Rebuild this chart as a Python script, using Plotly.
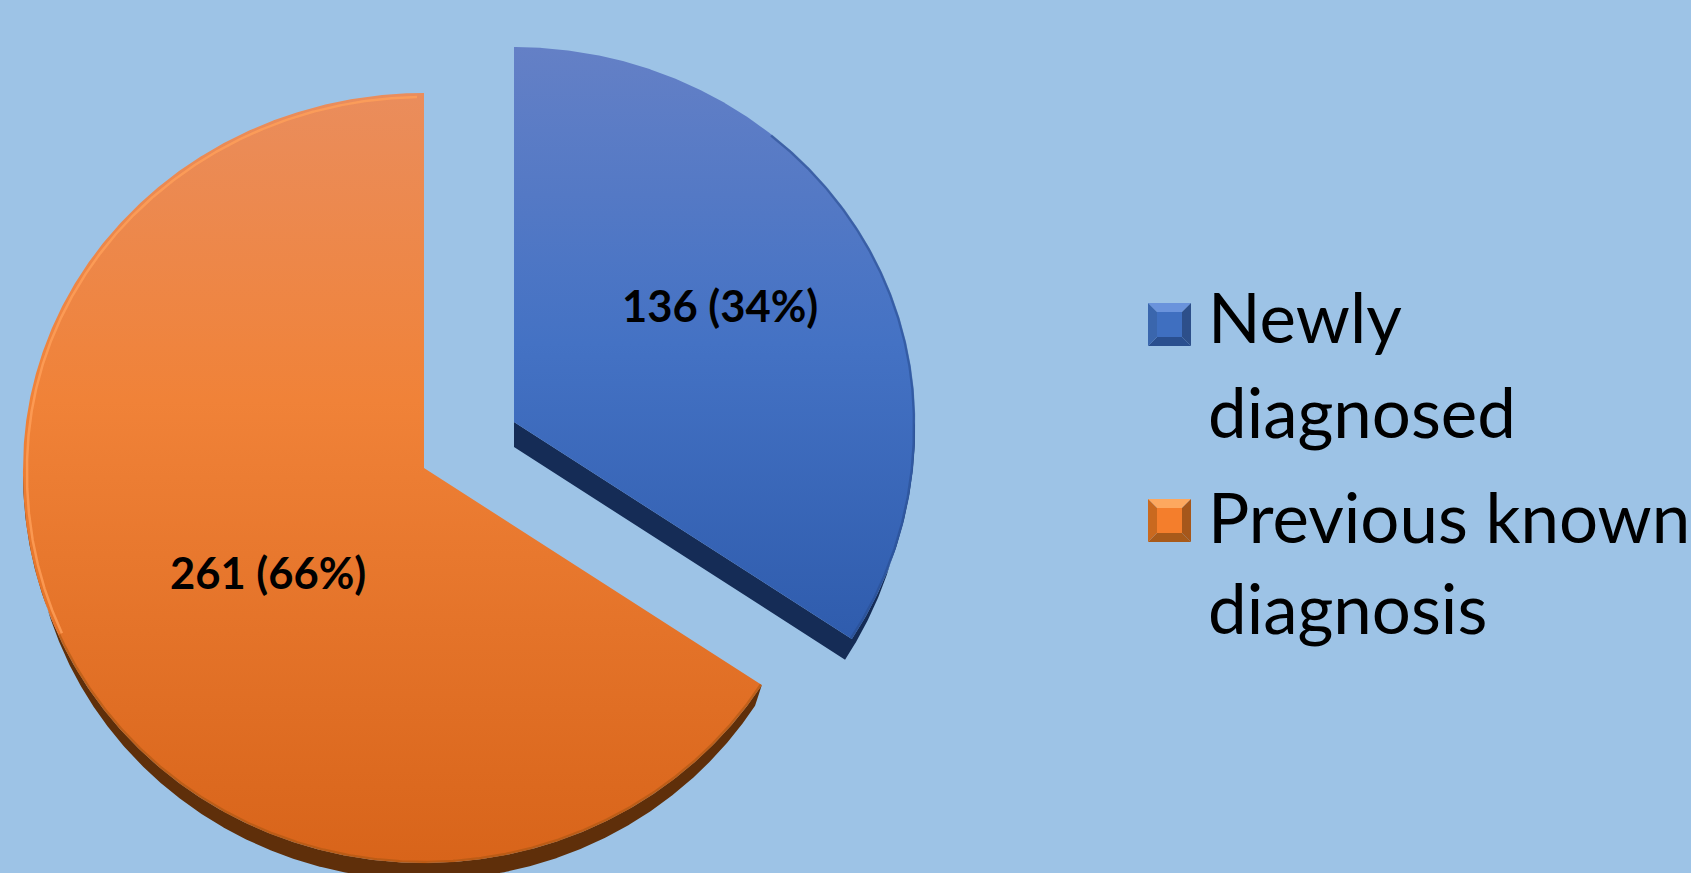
import math
import plotly.graph_objects as go

categories = ["Newly diagnosed", "Previous known diagnosis"]
counts = [136, 261]
legend_lines = [["Newly", "diagnosed"], ["Previous known", "diagnosis"]]

W, H = 1691, 873
BG = "#9DC3E6"
FONT = "Lato, Carlito, Calibri, sans-serif"

RX, RY_UP, RY_DOWN, DEPTH, BASE_SCALE = 401, 375, 395, 25, 0.98
centers = [(514, 422), (424, 468)]
# the y axis runs downwards, so position 0 of each scale is the top of the slice on screen
top_scales = [
    [[0, "#2F5CAD"], [0.5, "#4472C4"], [1, "#6480C6"]],
    [[0, "#D8641A"], [0.6, "#F08238"], [1, "#EA8D5C"]],
]
side_colors = ["#152C56", "#5F2F0A"]
edge_colors = ["#284C8E", "#A65512"]
label_frac = [(0.585, 0.655), (0.442, 0.555)]

total = sum(counts)
fractions = [c / total for c in counts]
labels = [f"{c} ({round(f * 100)}%)" for c, f in zip(counts, fractions)]


def pt(center, deg, shift=0.0, inset=0.0, scale=1.0):
    a = math.radians(deg)
    s, c = math.sin(a), math.cos(a)
    ry = RY_UP if c > 0 else RY_DOWN
    # the front of the tilted disc bulges a little towards the viewer
    rx = RX + (6 * abs(c) if c < 0 else 0)
    return center[0] + scale * (rx - inset) * s, center[1] - scale * (ry - inset) * c + shift


def arc(center, a0, a1, shift=0.0, inset=0.0, scale=1.0):
    n = max(2, int(abs(a1 - a0) * 4))
    return [pt(center, a0 + (a1 - a0) * i / n, shift, inset, scale) for i in range(n + 1)]


def xy(points):
    return [p[0] for p in points], [p[1] for p in points]


fig = go.Figure()
start = 0.0
for i, name in enumerate(categories):
    end = start + fractions[i] * 360
    c = centers[i]
    # extruded wall: the base sits lower and slightly smaller than the top face
    if i == 0:
        side = [c] + arc(c, end, 90) + arc(c, 90, end, DEPTH, 0, BASE_SCALE) + [(c[0], c[1] + DEPTH)]
    else:
        side = arc(c, start, 270) + arc(c, 270, start, DEPTH, 0, BASE_SCALE)
    sx, sy = xy(side)
    fig.add_trace(go.Scatter(x=sx, y=sy, mode="lines", fill="toself", fillcolor=side_colors[i],
                             line=dict(width=0), hoverinfo="skip", showlegend=False))
    # top face
    tx, ty = xy([c] + arc(c, start, end) + [c])
    fig.add_trace(go.Scatter(x=tx, y=ty, mode="lines", fill="toself",
                             fillgradient=dict(type="vertical", colorscale=top_scales[i]),
                             line=dict(width=0), name=name,
                             hovertext=f"{name}: {labels[i]}", hoverinfo="text", showlegend=False))
    # soft rim along the front of the top face
    ex, ey = xy(arc(c, 40 if i == 0 else start, end if i == 0 else 245, 0, 1))
    fig.add_trace(go.Scatter(x=ex, y=ey, mode="lines", line=dict(color=edge_colors[i], width=2.5),
                             opacity=0.55, hoverinfo="skip", showlegend=False))
    if i == 1:
        hx, hy = xy(arc(c, 245, end - 1, 0, 4))
        fig.add_trace(go.Scatter(x=hx, y=hy, mode="lines", line=dict(color="#FFA05A", width=2.5),
                                 opacity=0.8, hoverinfo="skip", showlegend=False))
    # value label
    mid = math.radians((start + end) / 2)
    ry = RY_UP if math.cos(mid) > 0 else RY_DOWN
    lx = c[0] + label_frac[i][0] * RX * math.sin(mid)
    ly = c[1] - label_frac[i][1] * ry * math.cos(mid)
    fig.add_annotation(x=lx, y=ly, text=f"<b>{labels[i]}</b>", showarrow=False,
                       font=dict(family=FONT, size=43.5, color="#000000"))
    start = end

# legend: bevelled swatches and wrapped labels
swatch_faces = [
    dict(top="#6A93DC", left="#3A66AD", right="#2D4F8A", bottom="#2A4F8F", mid="#3F6FC0"),
    dict(top="#FDA85F", left="#C9691F", right="#A6571B", bottom="#A85A1A", mid="#F47E2C"),
]
swatch_tops = [303, 499]
line_y = [[316, 411], [516, 607]]
SW, BV, SX = 43, 9, 1148
shapes = []
for top, faces in zip(swatch_tops, swatch_faces):
    x0, x1, y0, y1 = SX, SX + SW, top, top + SW
    a0, a1, b0, b1 = x0 + BV, x1 - BV, y0 + BV, y1 - BV
    polys = {
        "top": [(x0, y0), (x1, y0), (a1, b0), (a0, b0)],
        "bottom": [(x0, y1), (x1, y1), (a1, b1), (a0, b1)],
        "left": [(x0, y0), (a0, b0), (a0, b1), (x0, y1)],
        "right": [(x1, y0), (a1, b0), (a1, b1), (x1, y1)],
        "mid": [(a0, b0), (a1, b0), (a1, b1), (a0, b1)],
    }
    for key, poly in polys.items():
        path = "M " + " L ".join(f"{px},{py}" for px, py in poly) + " Z"
        shapes.append(dict(type="path", path=path, xref="x", yref="y",
                           fillcolor=faces[key], line=dict(width=0), layer="above"))

for lines, ys in zip(legend_lines, line_y):
    for text, y in zip(lines, ys):
        fig.add_annotation(x=1206, y=y, text=text, showarrow=False, xanchor="left", yanchor="middle",
                           font=dict(family=FONT, size=69, color="#000000"))

fig.update_layout(
    width=W, height=H, margin=dict(l=0, r=0, t=0, b=0),
    paper_bgcolor=BG, plot_bgcolor=BG, showlegend=False, shapes=shapes,
    xaxis=dict(range=[0, W], visible=False, fixedrange=True),
    yaxis=dict(range=[H, 0], visible=False, fixedrange=True),
)
fig.write_html("out.html", config={"displayModeBar": False},
               post_script="document.body.style.margin='0';document.body.style.overflow='hidden';document.body.style.background='#9DC3E6';")
